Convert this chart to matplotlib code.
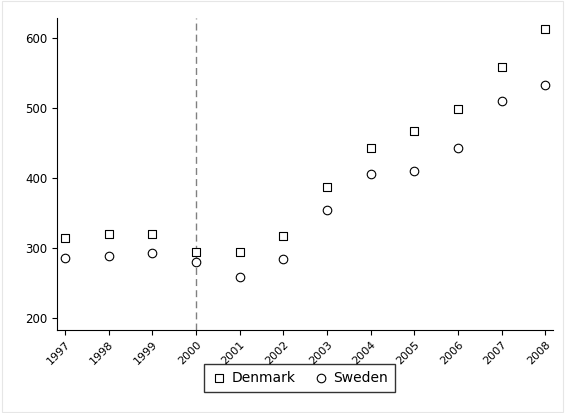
import matplotlib.pyplot as plt
from matplotlib.patches import Rectangle

years = list(range(1997, 2009))
denmark = [314, 320, 320, 294, 294, 317, 387, 444, 467, 499, 559, 614]
sweden = [286, 289, 293, 280, 259, 284, 354, 406, 411, 444, 510, 533]

fig = plt.figure(figsize=(5.65, 4.13), dpi=100)
ax = fig.add_axes([0.101, 0.201, 0.878, 0.755])
fig.patches.append(Rectangle((0.003, 0.003), 0.994, 0.994, transform=fig.transFigure,
                             fill=False, edgecolor="#e6e6e6", linewidth=0.8))

ax.scatter(years, denmark, marker="s", s=38, facecolors="white", edgecolors="black",
           linewidths=0.8, label="Denmark", zorder=3)
ax.scatter(years, sweden, marker="o", s=38, facecolors="white", edgecolors="black",
           linewidths=0.8, label="Sweden", zorder=3)
ax.axvline(2000, color="gray", linestyle=(0, (5, 3)), linewidth=1)

ax.set_xlim(1996.82, 2008.18)
ax.set_ylim(183, 629)
ax.set_xticks(years)
ax.set_xticklabels([str(y) for y in years], rotation=45, ha="right",
                   rotation_mode="anchor", fontsize=8)
ax.set_yticks([200, 300, 400, 500, 600])
ax.tick_params(axis="y", labelsize=8.5)
for s in ["top", "right"]:
    ax.spines[s].set_visible(False)

fig.legend(loc="lower center", bbox_to_anchor=(0.53, 0.035), ncol=2, frameon=True,
           fancybox=False, edgecolor="black", fontsize=10, handletextpad=0.3,
           columnspacing=1.2, borderpad=0.5, handlelength=1.2)

fig.savefig("out.png", dpi=100)
